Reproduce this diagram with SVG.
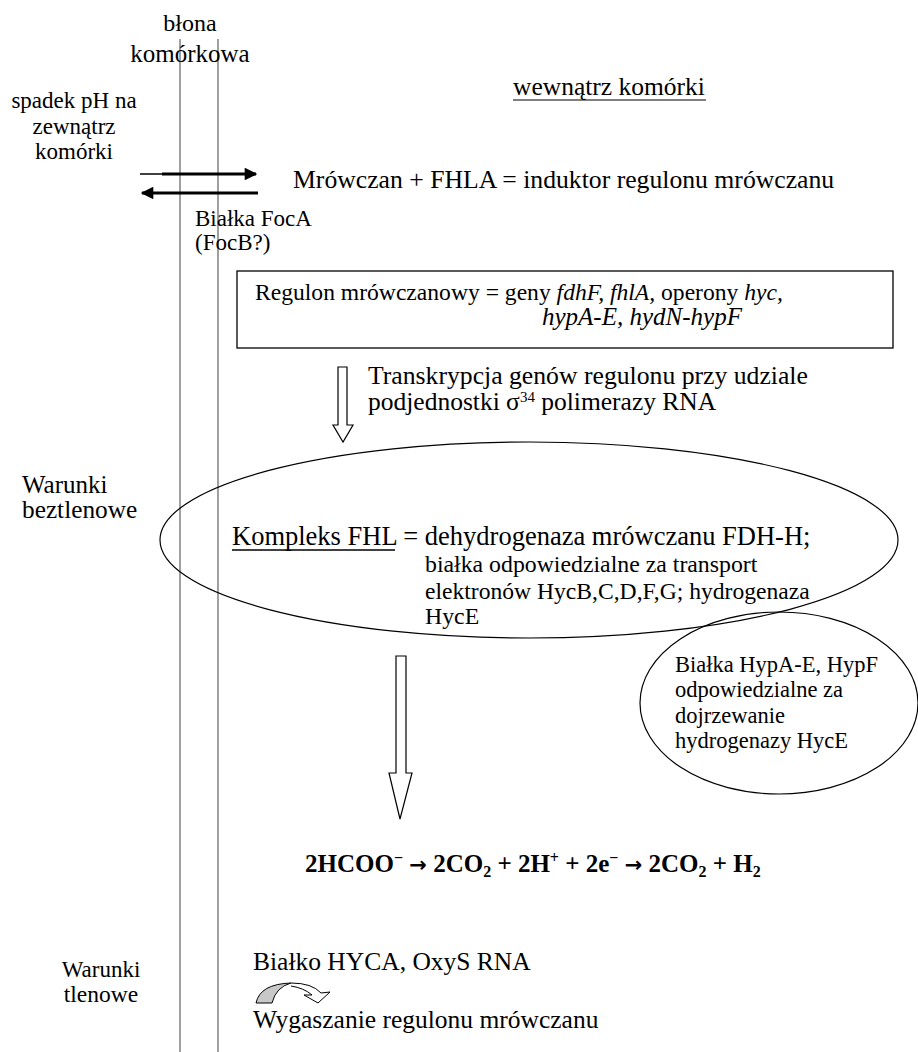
<svg xmlns="http://www.w3.org/2000/svg" width="918" height="1052" viewBox="0 0 918 1052">
<style>
text{font-family:"Liberation Serif","Times New Roman",serif;fill:#000}
.m{font-size:25.5px}
.s{font-size:23px}
.i{font-style:italic}
.eq{font-size:25px;font-weight:bold}
.arr{font-family:"DejaVu Sans",sans-serif;font-size:21px;font-weight:bold}
.mem{stroke:#777;stroke-width:1.4;fill:none}
.ol{fill:#fff;stroke:#000;stroke-width:1.2}
.el{fill:none;stroke:#000;stroke-width:1.2}
</style>
<defs>
<marker id="ah" viewBox="0 0 10 10" refX="9" refY="5" markerWidth="4.8" markerHeight="4.2" orient="auto-start-reverse" markerUnits="strokeWidth">
<path d="M0,0 L10,5 L0,10 Z" fill="#000"/>
</marker>
</defs>
<rect width="918" height="1052" fill="#fff"/>
<g id="membrane">
<line class="mem" x1="180" y1="39" x2="180" y2="1052"/>
<line class="mem" x1="218" y1="39" x2="218" y2="1052"/>
</g>
<g id="membrane-label">
<text x="190" y="31" text-anchor="middle" font-size="24">błona</text>
<text x="190" y="62" text-anchor="middle" font-size="25">komórkowa</text>
</g>
<g id="inside-label">
<text class="m" x="513" y="95">wewnątrz komórki</text>
<line x1="513" y1="100" x2="706" y2="100" stroke="#000" stroke-width="1.2"/>
</g>
<g id="ph-label">
<text class="s" x="74" y="108" text-anchor="middle">spadek pH na</text>
<text class="s" x="74" y="134" text-anchor="middle">zewnątrz</text>
<text class="s" x="74" y="159" text-anchor="middle">komórki</text>
</g>
<g id="inductor">
<text x="293" y="188" font-size="25.7">Mrówczan + FHLA = induktor regulonu mrówczanu</text>
</g>
<g id="foca">
<text class="s" x="195" y="226">Białka FocA</text>
<text class="s" x="195" y="250">(FocB?)</text>
</g>
<g id="regulon">
<rect x="237" y="271" width="656" height="77" fill="none" stroke="#000" stroke-width="1.3"/>
<text x="255" y="300" font-size="23.6">Regulon mrówczanowy = geny <tspan class="i">fdhF, fhlA,</tspan> operony <tspan class="i">hyc,</tspan></text>
<text class="i" x="542" y="325" font-size="25">hypA-E, hydN-hypF</text>
</g>
<g id="transcription">
<text x="368" y="384" font-size="25.7">Transkrypcja genów regulonu przy udziale</text>
<text class="m" x="368" y="410">podjednostki σ<tspan font-size="15" dy="-8">34</tspan><tspan dy="8"> polimerazy RNA</tspan></text>
</g>
<g id="anaerobic">
<text x="22" y="493" font-size="25">Warunki</text>
<text x="22" y="518" font-size="25.3">beztlenowe</text>
</g>
<g id="fhl">
<ellipse class="el" cx="529" cy="540" rx="369" ry="98"/>
<text x="232" y="545" font-size="26.5">Kompleks FHL = dehydrogenaza mrówczanu FDH-H;</text>
<line x1="232" y1="550" x2="395" y2="550" stroke="#000" stroke-width="1.3"/>
<text x="425" y="572" font-size="23.8">białka odpowiedzialne za transport</text>
<text x="425" y="599" font-size="23.6">elektronów HycB,C,D,F,G; hydrogenaza</text>
<text x="425" y="624" font-size="23.8">HycE</text>
</g>
<g id="hyp">
<ellipse class="el" cx="779" cy="703" rx="139" ry="91"/>
<text x="675" y="672" font-size="22.5">Białka HypA-E, HypF</text>
<text x="675" y="697" font-size="22.5">odpowiedzialne za</text>
<text x="675" y="723" font-size="22.5">dojrzewanie</text>
<text x="675" y="748" font-size="22.5">hydrogenazy HycE</text>
</g>
<g id="reaction">
<text class="eq" x="305" y="872">2HCOO<tspan font-size="16" dy="-9">−</tspan><tspan dy="9"> </tspan><tspan class="arr">→</tspan> 2CO<tspan font-size="16" dy="5">2</tspan><tspan dy="-5"> + 2H</tspan><tspan font-size="16" dy="-9">+</tspan><tspan dy="9"> + 2e</tspan><tspan font-size="16" dy="-9">−</tspan><tspan dy="9"> </tspan><tspan class="arr">→</tspan> 2CO<tspan font-size="16" dy="5">2</tspan><tspan dy="-5"> + H</tspan><tspan font-size="16" dy="5">2</tspan></text>
</g>
<g id="aerobic">
<text x="101" y="977" text-anchor="middle" font-size="23">Warunki</text>
<text x="101" y="1002" text-anchor="middle" font-size="23.5">tlenowe</text>
</g>
<g id="hyca">
<text class="m" x="253" y="970">Białko HYCA, OxyS RNA</text>
<text class="m" x="253" y="1028">Wygaszanie regulonu mrówczanu</text>
</g>
<g id="connectors">
<line x1="140" y1="174" x2="162" y2="174" stroke="#000" stroke-width="1.5"/>
<line x1="162" y1="174" x2="256" y2="174" stroke="#000" stroke-width="3" marker-end="url(#ah)"/>
<line x1="258" y1="193" x2="142" y2="193" stroke="#000" stroke-width="3" marker-end="url(#ah)"/>
<polygon class="ol" points="338,367 347,367 347,425 353,425 343,442 333,425 338,425"/>
<polygon class="ol" points="396,656 406,656 406,773 412,773 400,819 389,773 396,773"/>
<path d="M256,1003 Q260,984 291,983 Q276,987 272,1003 Z" fill="#c8c8c8" stroke="#000" stroke-width="1"/>
<path d="M291,983 Q312,983 321,993 L330,992 L318,1003 L304,995 L312,995 Q304,988 291,986" fill="#fff" stroke="#000" stroke-width="1"/>
</g>
</svg>
